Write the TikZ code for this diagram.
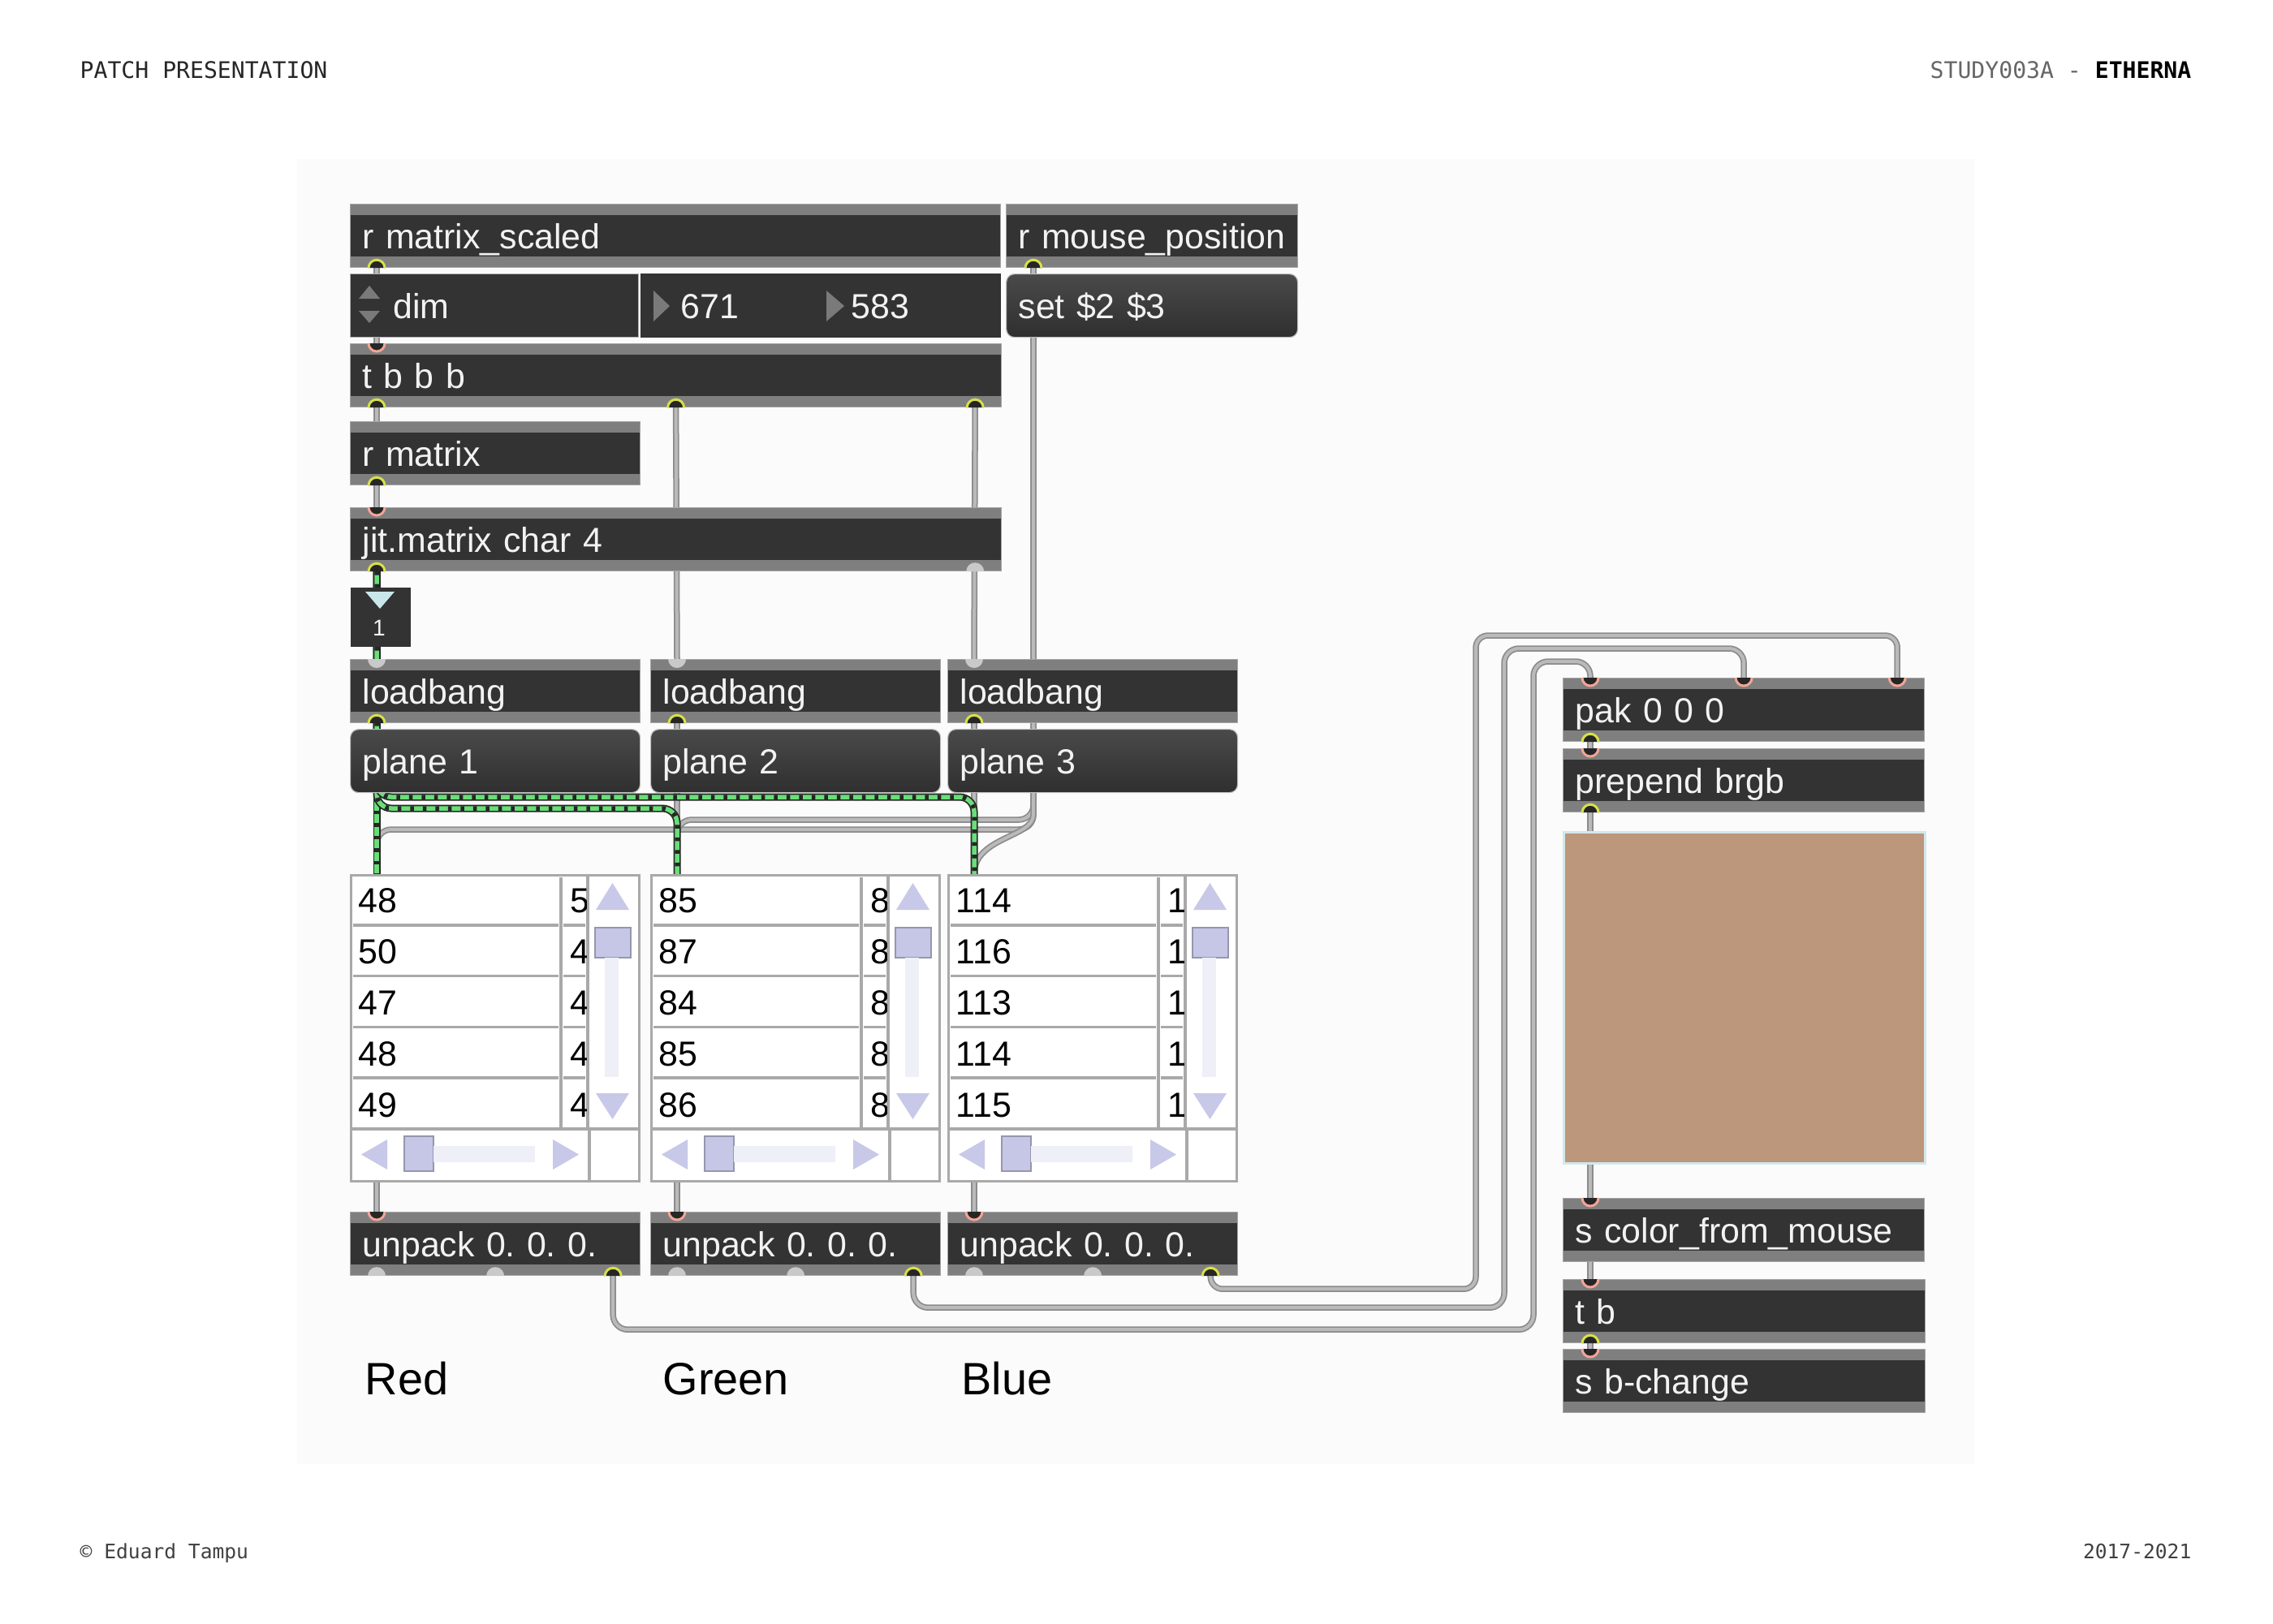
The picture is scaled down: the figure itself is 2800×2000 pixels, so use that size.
\documentclass[tikz,border=0pt]{standalone}
\usepackage{fontspec}
\setmainfont{Liberation Sans}
\newfontfamily\monofont{DejaVu Sans Mono}
\usepackage{xcolor}
\usetikzlibrary{arrows.meta, positioning, calc}
\frenchspacing

\definecolor{objfill}{HTML}{333333}
\definecolor{objbar}{HTML}{7F7F7F}
\definecolor{objtext}{HTML}{F2F2F2}
\definecolor{msgtop}{HTML}{4A4A4A}
\definecolor{msgbot}{HTML}{2F2F2F}
\definecolor{inpink}{HTML}{F2A596}
\definecolor{outyel}{HTML}{D8E048}
\definecolor{portdark}{HTML}{262626}
\definecolor{freeport}{HTML}{C9C9C9}
\definecolor{cordedge}{HTML}{8C8C8C}
\definecolor{cordmid}{HTML}{BABABA}
\definecolor{mgreen}{HTML}{69DE78}
\definecolor{scrolltri}{HTML}{C8C8E8}
\definecolor{thumbfill}{HTML}{C6C6E6}
\definecolor{thumbedge}{HTML}{9696AE}
\definecolor{trackfill}{HTML}{EFEFF7}
\definecolor{cellline}{HTML}{A9A9A9}
\definecolor{swatchcol}{HTML}{BC977B}
\definecolor{swatchedge}{HTML}{D2E8EA}
\definecolor{numtri}{HTML}{7A7A7A}
\definecolor{numonetri}{HTML}{C9E7EB}
\definecolor{panelcol}{HTML}{FBFBFB}

\pgfdeclarelayer{panel}
\pgfdeclarelayer{cords}
\pgfsetlayers{panel,cords,main}

\newcommand{\objfont}{\fontsize{12.2pt}{14pt}\selectfont}

% ports: outlets sit on the bottom edge, inlets on the top edge
\newcommand{\outlet}[1]{%
  \fill[portdark] ($(#1)+(-1.1mm,0pt)$) arc[start angle=180, end angle=0, radius=1.1mm] -- cycle;
  \draw[outyel, line width=0.3mm] ($(#1)+(-1mm,0pt)$) arc[start angle=180, end angle=0, radius=1mm];}
\newcommand{\inlet}[1]{%
  \fill[portdark] ($(#1)+(-1.1mm,0pt)$) arc[start angle=180, end angle=360, radius=1.1mm] -- cycle;
  \draw[inpink, line width=0.3mm] ($(#1)+(-1mm,0pt)$) arc[start angle=180, end angle=360, radius=1mm];}
\newcommand{\freeout}[1]{%
  \fill[freeport] ($(#1)+(-1.1mm,0pt)$) arc[start angle=180, end angle=0, radius=1.1mm] -- cycle;}
\newcommand{\freein}[1]{%
  \fill[freeport] ($(#1)+(-1.1mm,0pt)$) arc[start angle=180, end angle=360, radius=1.1mm] -- cycle;}

% jit.cellblock contents: node, first column, clipped second column
\newcommand{\cellblock}[3]{%
  \begin{scope}[shift={(#1.north west)}]
    \foreach \k in {1,...,4}
      \draw[cellline, line width=0.35mm] (4,62.8*\k) -- (257,62.8*\k) (263,62.8*\k) -- (290,62.8*\k);
    \draw[cellline, line width=0.35mm] (260,4) -- (260,312) (293,0) -- (293,314)
      (0,314) -- (355,314) (295,314) -- (295,377);
    \foreach \v [count=\k] in {#2}
      \node[cellnum] (#1-r\k) at (10,62.8*\k-15) {\v};
    \begin{scope}
      \clip (262,0) rectangle (291,314);
      \foreach \d [count=\k] in {#3}
        \node[cellnum] (#1-c\k) at (271,62.8*\k-15) {\d};
    \end{scope}
    % vertical scroll bar
    \fill[scrolltri] (303,44) -- (344,44) -- (323.5,11) -- cycle;
    \filldraw[fill=thumbfill, draw=thumbedge, line width=0.2mm] (302,66) rectangle (346,103);
    \fill[trackfill] (314,103) rectangle (331,250);
    \fill[scrolltri] (303,270) -- (344,270) -- (323.5,302) -- cycle;
    % horizontal scroll bar
    \fill[scrolltri] (46,327) -- (46,364) -- (14,345.5) -- cycle;
    \filldraw[fill=thumbfill, draw=thumbedge, line width=0.2mm] (67,323) rectangle (103,366);
    \fill[trackfill] (103,335) rectangle (228,355);
    \fill[scrolltri] (250,327) -- (250,364) -- (282,345.5) -- cycle;
  \end{scope}}

\begin{document}
\begin{tikzpicture}[x=0.1mm, y=-0.1mm,
    obj/.style={draw=objbar!70!white, line width=0.12mm, fill=objfill, text=objtext,
      font=\objfont, anchor=north west, inner xsep=1.5mm, inner ysep=0pt,
      minimum height=7.8mm, text height=3.6mm, text depth=0.4mm,
      align=left, text width=#1,
      path picture={
        \fill[objbar] (path picture bounding box.north west) rectangle ([yshift=-1.35mm]path picture bounding box.north east);
        \fill[objbar] (path picture bounding box.south west) rectangle ([yshift=1.35mm]path picture bounding box.south east);
      }},
    msg/.style={draw=black!25, line width=0.12mm, rounded corners=1mm,
      top color=msgtop, bottom color=msgbot, text=objtext, font=\objfont,
      anchor=north west, inner xsep=1.5mm, inner ysep=0pt,
      minimum height=7.8mm, text height=3.6mm, text depth=0.4mm,
      align=left, text width=#1},
    numbox/.style={draw=black!30, line width=0.12mm, fill=objfill, text=objtext,
      font=\objfont, anchor=north west, inner xsep=1.5mm, inner ysep=0pt,
      minimum height=7.8mm, text height=3.6mm, text depth=0.4mm,
      align=left, text width=#1},
    cellbox/.style={draw=cellline, line width=0.3mm, fill=white, anchor=north west,
      minimum width=35.5mm, minimum height=37.7mm, inner sep=0pt},
    cellnum/.style={anchor=base west, font=\objfont, text=black, inner sep=0pt},
    cord/.style={draw=cordedge, line width=0.75mm, rounded corners=1.8mm,
      postaction={draw=cordmid, line width=0.4mm}},
    mcord/.style={draw=black!85, line width=0.9mm, rounded corners=1.8mm,
      postaction={draw=mgreen, line width=0.55mm},
      postaction={draw=black!85, line width=0.55mm, dash pattern=on 0.45mm off 1.1mm}},
    lbl/.style={anchor=base west, font=\fontsize{15.9pt}{19pt}\selectfont, text=black, inner sep=0pt},
    hdr/.style={font=\monofont\fontsize{8pt}{10pt}\selectfont, inner sep=0pt},
    ftr/.style={font=\monofont\fontsize{7pt}{9pt}\selectfont, text=black!75, inner sep=0pt}]

  \useasboundingbox (0,0) rectangle (2800,2000);
  \begin{pgfonlayer}{panel}
    \fill[white] (0,0) rectangle (2800,2000);
    \fill[panelcol] (366,196) rectangle (2432,1804);
  \end{pgfonlayer}

  % page header and footer
  \node[hdr, anchor=base west, text=black!85] (title) at (98,96) {PATCH PRESENTATION};
  \node[hdr, anchor=base east] (study) at (2700,96) {\textcolor{black!60}{STUDY003A -} \textbf{ETHERNA}};
  \node[ftr, anchor=base west] (author) at (98,1920) {© Eduard Tampu};
  \node[ftr, anchor=base east] (years) at (2700,1920) {2017-2021};

  % receivers and dimensions
  \node[obj=77.1mm] (rmscaled) at (431,251) {r matrix\_scaled};
  \node[obj=32.9mm] (rmouse) at (1239,251) {r mouse\_position};
  \node[numbox=32.5mm] (dimmenu) at (431,337) {\hspace*{3.8mm}dim};
  \node[numbox=19.1mm, draw=objfill] (numw) at (789,337) {\hspace*{3.4mm}671};
  \node[numbox=19.2mm, draw=objfill] (numh) at (1010,337) {\hspace*{2.3mm}583};
  \node[msg=32.9mm] (setmsg) at (1239,337) {set \$2 \$3};
  \fill[numtri] (442,368) -- (468,368) -- (455,352) -- cycle;
  \fill[numtri] (442,383) -- (468,383) -- (455,398) -- cycle;
  \fill[numtri] (805,358) -- (805,396) -- (825,377) -- cycle;
  \fill[numtri] (1018,358) -- (1018,396) -- (1040,377) -- cycle;

  \node[obj=77.2mm] (tbbb) at (431,423) {t b b b};
  \node[obj=32.7mm] (rmatrix) at (431,519) {r matrix};
  \node[obj=77.2mm] (jitmat) at (431,625) {jit.matrix char 4};

  \node[fill=objfill, anchor=north west, minimum width=7.4mm, minimum height=7.3mm, inner sep=0pt] (numone) at (431,723) {};
  \fill[numonetri] (450,729) -- (486,729) -- (468,750) -- cycle;
  \node[font=\fontsize{8pt}{9pt}\selectfont, text=objtext, anchor=base, inner sep=0pt] (numoneval) at (467,783) {1};

  % one column per plane
  \foreach \x/\i in {431/1, 801/2, 1167/3} {
    \node[obj=32.7mm] (lb\i) at (\x,812) {loadbang};
    \node[msg=32.7mm] (pl\i) at (\x,898) {plane \i};
    \node[cellbox] (cb\i) at (\x,1077) {};
    \node[obj=32.7mm] (up\i) at (\x,1493) {unpack 0. 0. 0.};
    \coordinate (lb\i-i) at ([xshift=3.3mm]lb\i.north west);
    \coordinate (lb\i-o) at ([xshift=3.3mm]lb\i.south west);
    \coordinate (pl\i-i) at ([xshift=3.3mm]pl\i.north west);
    \coordinate (pl\i-o) at ([xshift=3.3mm]pl\i.south west);
    \coordinate (cb\i-i) at ([xshift=3.3mm]cb\i.north west);
    \coordinate (cb\i-o) at ([xshift=3.3mm]cb\i.south west);
    \coordinate (up\i-i) at ([xshift=3.3mm]up\i.north west);
    \coordinate (up\i-o) at ([xshift=-3.4mm]up\i.south east);
    \coordinate (up\i-f1) at ([xshift=3.3mm]up\i.south west);
    \coordinate (up\i-f2) at (up\i.south);
  }
  \cellblock{cb1}{48,50,47,48,49}{5,4,4,4,4}
  \cellblock{cb2}{85,87,84,85,86}{8,8,8,8,8}
  \cellblock{cb3}{114,116,113,114,115}{1,1,1,1,1}

  \node[lbl] (lblred) at (449,1718) {Red};
  \node[lbl] (lblgreen) at (816,1718) {Green};
  \node[lbl] (lblblue) at (1184,1718) {Blue};

  % colour chain
  \node[obj=41.5mm] (pak) at (1925,835) {pak 0 0 0};
  \node[obj=41.5mm] (prepend) at (1925,922) {prepend brgb};
  \node[draw=swatchedge, line width=0.3mm, fill=swatchcol, anchor=north west,
    minimum width=44.5mm, minimum height=40.8mm, inner sep=0pt] (swatch) at (1925,1024) {};
  \node[obj=41.5mm] (scolor) at (1925,1476) {s color\_from\_mouse};
  \node[obj=41.6mm] (tb) at (1925,1576) {t b};
  \node[obj=41.6mm] (sbchange) at (1925,1662) {s b-change};

  % port positions
  \coordinate (rms-o) at ([xshift=3.3mm]rmscaled.south west);
  \coordinate (rmo-o) at ([xshift=3.4mm]rmouse.south west);
  \coordinate (set-i) at ([xshift=3.4mm]setmsg.north west);
  \coordinate (set-o) at ([xshift=3.4mm]setmsg.south west);
  \coordinate (tb3-i) at ([xshift=3.3mm]tbbb.north west);
  \coordinate (tb3-o1) at ([xshift=3.3mm]tbbb.south west);
  \coordinate (tb3-o2) at (tbbb.south);
  \coordinate (tb3-o3) at ([xshift=-3.3mm]tbbb.south east);
  \coordinate (rmx-i) at ([xshift=3.3mm]rmatrix.north west);
  \coordinate (rmx-o) at ([xshift=3.3mm]rmatrix.south west);
  \coordinate (jit-i) at ([xshift=3.3mm]jitmat.north west);
  \coordinate (jit-o) at ([xshift=3.3mm]jitmat.south west);
  \coordinate (jit-o2) at ([xshift=-3.3mm]jitmat.south east);
  \coordinate (pak-i1) at ([xshift=3.4mm]pak.north west);
  \coordinate (pak-i2) at (pak.north);
  \coordinate (pak-i3) at ([xshift=-3.4mm]pak.north east);
  \coordinate (pak-o) at ([xshift=3.4mm]pak.south west);
  \coordinate (pre-i) at ([xshift=3.4mm]prepend.north west);
  \coordinate (pre-o) at ([xshift=3.4mm]prepend.south west);
  \coordinate (sw-i) at ([xshift=3.4mm]swatch.north west);
  \coordinate (sw-o) at ([xshift=3.4mm]swatch.south west);
  \coordinate (sc-i) at ([xshift=3.4mm]scolor.north west);
  \coordinate (tb-i) at ([xshift=3.4mm]tb.north west);
  \coordinate (tb-o) at ([xshift=3.4mm]tb.south west);
  \coordinate (sb-i) at ([xshift=3.4mm]sbchange.north west);

  % patch cords, behind the boxes
  \begin{pgfonlayer}{cords}
    \draw[cord] (rms-o) -- (tb3-i);
    \draw[cord] (tb3-o1) -- (rmx-i);
    \draw[cord] (rmx-o) -- (jit-i);
    \draw[cord] (tb3-o2) -- (lb2-i);
    \draw[cord] (tb3-o3) -- (lb3-i);
    \draw[cord] (rmo-o) -- (set-i);
    \foreach \i in {1,2,3} {
      \draw[cord] (lb\i-o) -- (pl\i-i);
      \draw[cord] (pl\i-o) -- (cb\i-i);
      \draw[cord] (cb\i-o) -- (up\i-i);
    }
    % mouse position into every cellblock
    \draw[cord] (set-o) -- (set-o |- 0,1022) -| (cb1-i);
    \draw[cord] (set-o) -- (set-o |- 0,1010) -| (cb2-i);
    \draw[cord] (set-o) -- (set-o |- 0,986) to[out=-90, in=90] (cb3-i);
    % matrix into every cellblock
    \draw[mcord] (jit-o) -- (cb1-i);
    \draw[mcord] (jit-o) -- (jit-o |- 0,996) -| (cb2-i);
    \draw[mcord] (jit-o) -- (jit-o |- 0,982) -| (cb3-i);
    % unpacked values into pak
    \draw[cord] (up1-o) -- ++(0,66) -| (1889,815) -| (pak-i1);
    \draw[cord] (up2-o) -- ++(0,39) -| (1853,799) -| (pak-i2);
    \draw[cord, rounded corners=1.5mm] (up3-o) -- ++(0,16) -| (1818,783) -| (pak-i3);
    \draw[cord] (pak-o) -- (pre-i);
    \draw[cord] (pre-o) -- (sw-i);
    \draw[cord] (sw-o) -- (sc-i);
    \draw[cord] (sw-o) -- (tb-i);
    \draw[cord] (tb-o) -- (sb-i);
  \end{pgfonlayer}

  % ports on top
  \foreach \p in {rms-o, rmo-o, tb3-o1, tb3-o2, tb3-o3, rmx-o, jit-o, lb1-o, lb2-o, lb3-o,
      up1-o, up2-o, up3-o, pak-o, pre-o, tb-o} {\outlet{\p}}
  \foreach \p in {tb3-i, jit-i, up1-i, up2-i, up3-i, pak-i1, pak-i2, pak-i3, pre-i, sc-i, tb-i, sb-i} {\inlet{\p}}
  \foreach \p in {jit-o2, up1-f1, up1-f2, up2-f1, up2-f2, up3-f1, up3-f2} {\freeout{\p}}
  \foreach \p in {lb1-i, lb2-i, lb3-i} {\freein{\p}}
\end{tikzpicture}
\end{document}
